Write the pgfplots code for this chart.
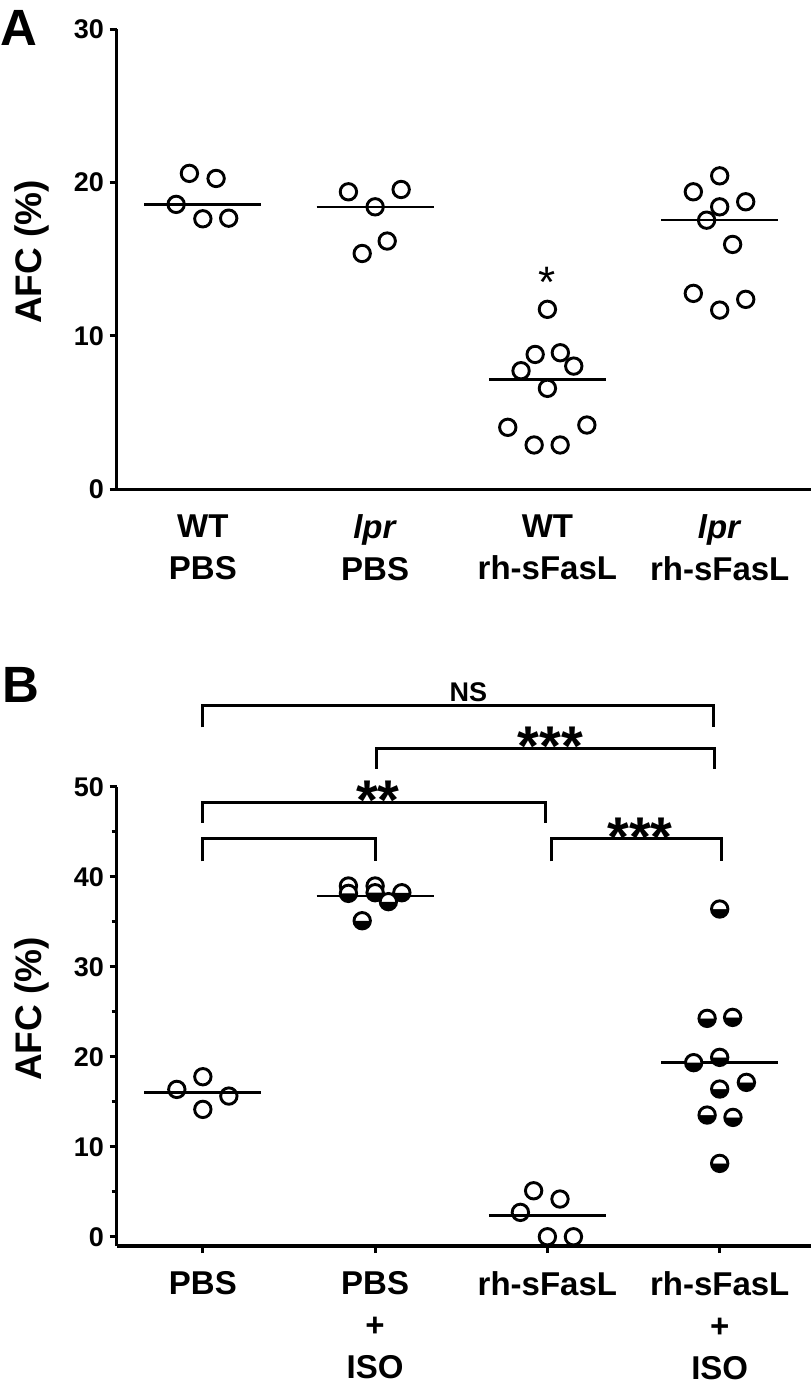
\documentclass[border=0pt]{standalone}
\usepackage{pgfplots}
\pgfplotsset{compat=1.18}
\usetikzlibrary{plotmarks}
\usepackage{fontspec}
\setmainfont{Liberation Sans}
\begin{document}
\begin{tikzpicture}[x=1pt,y=1pt]
\useasboundingbox (0,0) rectangle (811,-1392);
\node[anchor=base west, inner sep=0, font=\fontsize{51}{51}\selectfont\bfseries] at (0,-45) {A};
\node[anchor=base west, inner sep=0, font=\fontsize{51}{51}\selectfont\bfseries] at (2,-702.7) {B};
\pgfplotsset{
  myax/.style={
    scale only axis,
    axis x line=bottom, axis y line=left,
    axis line style={-, line width=3.6pt, black},
    xmin=-0.5, xmax=3.53,
    xtick={0,1,2,3},
    tick style={line width=3pt, black},
    major tick length=7pt,
    minor tick length=5pt,
    tick align=outside,
    /pgf/number format/assume math mode=true,
    yticklabel style={font=\fontsize{27}{27}\selectfont\bfseries, inner sep=5.5pt},
    xticklabel style={align=center, font=\fontsize{33}{41.8}\selectfont\bfseries, yshift=-15pt},
    clip=false,
    ylabel={AFC (\%)},
    ylabel style={font=\fontsize{37}{37}\selectfont\bfseries, anchor=base},
  },
  openmark/.style={only marks, black, mark=o, mark size=8.2pt, mark options={solid, line width=2.9pt, draw=black}},
  halfmark/.style={only marks, black, mark=halfcircle*, mark size=8.2pt, mark options={solid, line width=2.9pt, draw=black, fill=black, rotate=180}},
  medline/.style={line width=2.6pt, black, no marks},
}
% ---------------- Panel A ----------------
\begin{axis}[myax,
  at={(116.7pt,-489.3pt)}, anchor=south west,
  width=694.3pt, height=460.3pt,
  ymin=0, ymax=30, ytick={0,10,20,30},
  major x tick style={draw=none},
  xticklabels={{WT\\PBS},{\textit{lpr}\\PBS},{WT\\rh-sFasL},{\textit{lpr}\\rh-sFasL}},
  ylabel style={at={(axis description cs:-0.108,0.5155)}},
]
\addplot[openmark] coordinates {(-0.078,20.59) (0.077,20.26) (-0.155,18.57) (0,17.63) (0.15,17.67)};
\addplot[openmark] coordinates {(0.845,19.39) (1.151,19.54) (1,18.41) (1.07,16.18) (0.925,15.37)};
\addplot[openmark] coordinates {(2,11.73) (1.929,8.79) (2.075,8.90) (1.847,7.73) (2.153,8.03) (2,6.58) (1.77,4.04) (2.229,4.19) (1.923,2.89) (2.074,2.89)};
\addplot[openmark] coordinates {(3,20.43) (2.847,19.39) (3.151,18.74) (3,18.41) (2.924,17.54) (3.075,15.96) (2.847,12.77) (3.151,12.38) (3,11.68)};
\addplot[medline] coordinates {(-0.34,18.57) (0.34,18.57)};
\addplot[medline] coordinates {(0.66,18.39) (1.34,18.39)};
\addplot[medline] coordinates {(1.66,7.14) (2.34,7.14)};
\addplot[medline] coordinates {(2.66,17.54) (3.34,17.54)};
\node[anchor=north, inner sep=0, font=\fontsize{44}{44}\selectfont] at (axis cs:2,14.5) {*};
\end{axis}
% ---------------- Panel B ----------------
\begin{axis}[myax,
  at={(116.7pt,-1246pt)}, anchor=south west,
  width=694.3pt, height=459.3pt,
  ymin=-1.03, ymax=50, ytick={0,10,20,30,40,50},
  minor y tick num=1,
  xticklabels={{PBS},{PBS\\+\\ISO},{rh-sFasL},{rh-sFasL\\+\\ISO}},
  ylabel style={at={(axis description cs:-0.108,0.516)}},
]
\addplot[openmark] coordinates {(0,17.78) (-0.151,16.37) (0.151,15.63) (0,14.15)};
\addplot[halfmark] coordinates {(0.845,38.97) (1,38.97) (0.845,38.15) (1,38.22) (1.155,38.22) (1.077,37.23) (0.925,35.11)};
\addplot[openmark] coordinates {(1.92,5.11) (2.073,4.19) (1.843,2.71) (2,0) (2.151,0)};
\addplot[halfmark] coordinates {(3,36.41) (2.927,24.26) (3.075,24.37) (2.849,19.34) (3,19.93) (3.155,17.15) (3,16.41) (2.927,13.52) (3.077,13.26) (3,8.15)};
\addplot[medline] coordinates {(-0.34,16.04) (0.34,16.04)};
\addplot[medline] coordinates {(0.66,37.86) (1.34,37.86)};
\addplot[medline] coordinates {(1.66,2.37) (2.34,2.37)};
\addplot[medline] coordinates {(2.66,19.34) (3.34,19.34)};
% significance brackets
\draw[line width=3pt] (axis cs:0,56.6) -- (axis cs:0,59.0) -- (axis cs:2.962,59.0) -- (axis cs:2.962,56.6);
\draw[line width=3pt] (axis cs:1.01,52.0) -- (axis cs:1.01,54.3) -- (axis cs:2.968,54.3) -- (axis cs:2.968,52.0);
\draw[line width=3pt] (axis cs:0,46.0) -- (axis cs:0,48.3) -- (axis cs:1.987,48.3) -- (axis cs:1.987,46.0);
\draw[line width=3pt] (axis cs:0,41.7) -- (axis cs:0,44.2) -- (axis cs:1,44.2) -- (axis cs:1,41.7);
\draw[line width=3pt] (axis cs:2.026,41.7) -- (axis cs:2.026,44.3) -- (axis cs:3.013,44.3) -- (axis cs:3.013,41.7);
\node[anchor=base, inner sep=0, font=\fontsize{27}{27}\selectfont\bfseries] at (axis cs:1.541,59.5) {NS};
\node[anchor=north, inner sep=0, font=\fontsize{56}{56}\selectfont\bfseries] at (axis cs:2.017,56.7) {***};
\node[anchor=north, inner sep=0, font=\fontsize{56}{56}\selectfont\bfseries] at (axis cs:1.016,50.66) {**};
\node[anchor=north, inner sep=0, font=\fontsize{56}{56}\selectfont\bfseries] at (axis cs:2.538,46.59) {***};
\end{axis}
\end{tikzpicture}
\end{document}
